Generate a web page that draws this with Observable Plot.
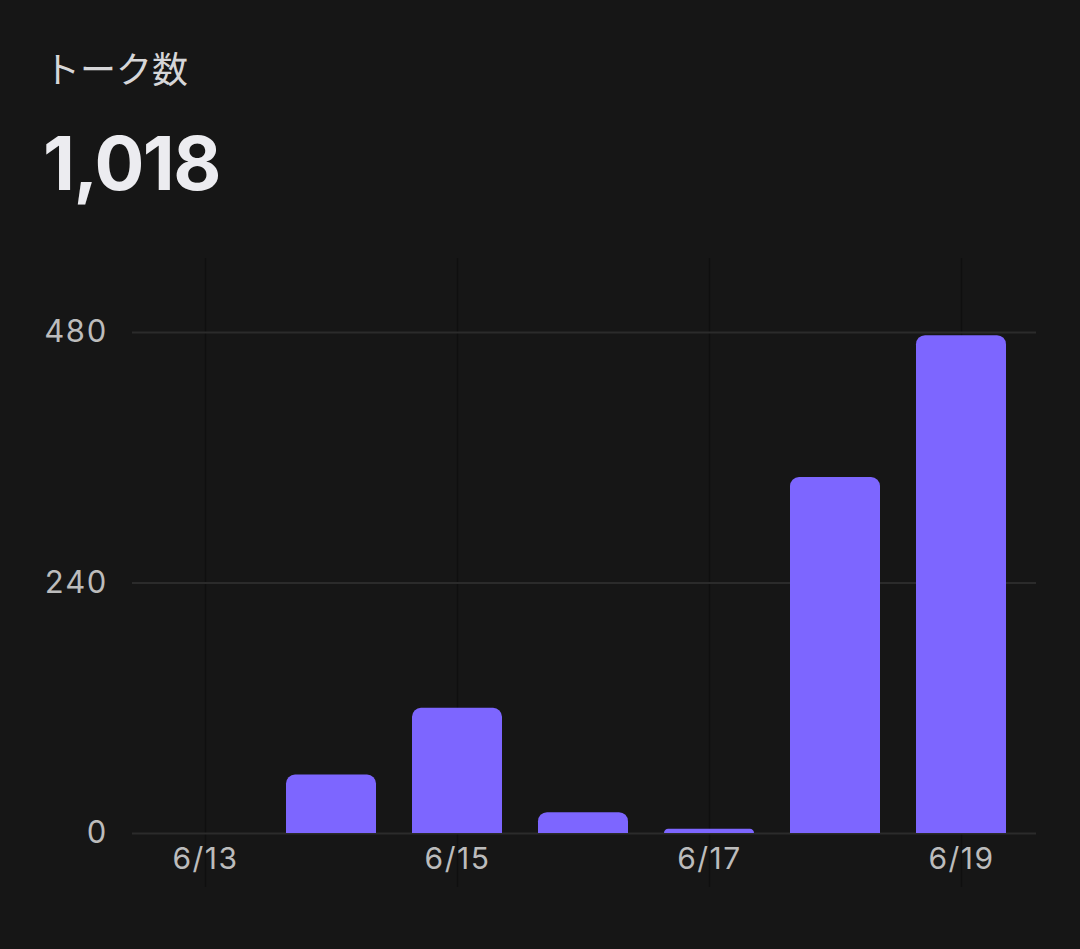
<!DOCTYPE html>
<html><head><meta charset="utf-8">
<script src="https://cdn.jsdelivr.net/npm/d3@7"></script>
<script src="https://cdn.jsdelivr.net/npm/@observablehq/plot@0.6"></script>
<style>
html,body{margin:0;padding:0;background:#161616;}
#wrap{width:1080px;height:949px;position:relative;overflow:hidden;background:#161616;}
#header{height:240px;position:relative;}
#title{position:absolute;left:44px;top:49px;font-family:"Noto Sans CJK JP";font-size:36px;color:#d6d6d8;line-height:1;white-space:nowrap;}
#total{position:absolute;left:43px;top:126px;font-family:Inter;font-weight:700;font-size:74px;color:#ececf0;line-height:1;white-space:nowrap;letter-spacing:-1.5px;}
#chart svg{display:block;}
#chart svg [aria-label="x-axis tick label"] text{letter-spacing:1.5px;}
#chart svg [aria-label="y-axis tick label"] text{letter-spacing:1px;}
</style>
</head><body>
<div id="wrap">
  <div id="header">
    <div id="title">トーク数</div>
    <div id="total">1,018</div>
  </div>
  <div id="chart"></div>
</div>
<script>
const days = ["6/13","6/14","6/15","6/16","6/17","6/18","6/19"];
const talks = [0, 56, 120, 20, 4, 341, 477];
const xTickLabels = ["6/13","6/15","6/17","6/19"];
const yTicks = [0, 240, 480];

const data = days.map((d, i) => ({day: d, count: talks[i]}));

const chart = Plot.plot({
  width: 1080,
  height: 709,
  marginTop: 92,
  marginBottom: 116,
  marginLeft: 132,
  marginRight: 44,
  style: {background: "transparent", fontFamily: "Inter", color: "#bcbcbc"},
  x: {type: "band", domain: days, paddingInner: 0.286, paddingOuter: 0.143, insetLeft: 10, insetRight: 12},
  y: {domain: [0, 480]},
  marks: [
    Plot.ruleX(xTickLabels, {x: d => d, stroke: "#0f0f0f", strokeWidth: 1.2, insetTop: -74, insetBottom: -54}),
    Plot.ruleY(yTicks, {y: d => d, stroke: "#2b2b2b", strokeWidth: 2}),
    Plot.barY(data, {x: "day", y: "count", fill: "#7d66ff", ry1: 9}),
    Plot.axisY(yTicks, {tickSize: 0, tickPadding: 25, fontSize: 31, fill: "#bcbcbc", label: null}),
    Plot.axisX(xTickLabels, {tickSize: 0, tickPadding: 14, fontSize: 30, fill: "#bcbcbc", label: null})
  ]
});
document.getElementById("chart").appendChild(chart);
</script>
</body></html>
